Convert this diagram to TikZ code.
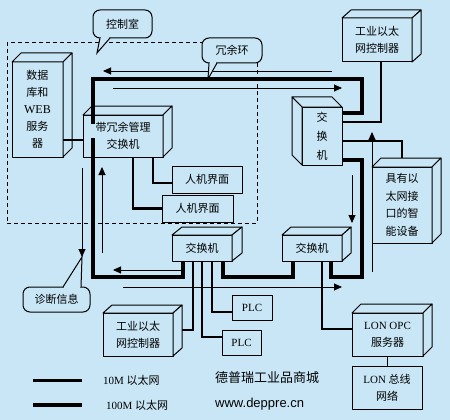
\documentclass[tikz,border=0pt]{standalone}
\usepackage{fontspec}
\setmainfont{Liberation Serif}
\newfontfamily\cjk{Noto Sans CJK SC}
\newfontfamily\wmfont{Liberation Sans}
\usetikzlibrary{arrows.meta,calc}
\definecolor{bgc}{RGB}{200,230,245}
\newcommand\cubeur[3]{%
  \filldraw[boxline] (#1.north west) -- ++(#2,#3) -- ($(#1.north east)+(#2,#3)$) -- (#1.north east) -- cycle;
  \filldraw[boxline] (#1.north east) -- ($(#1.north east)+(#2,#3)$) -- ($(#1.south east)+(#2,#3)$) -- (#1.south east) -- cycle;}
\newcommand\cubeul[3]{%
  \filldraw[boxline] (#1.north west) -- ++(#2,#3) -- ($(#1.north east)+(#2,#3)$) -- (#1.north east) -- cycle;
  \filldraw[boxline] (#1.north west) -- ($(#1.north west)+(#2,#3)$) -- ($(#1.south west)+(#2,#3)$) -- (#1.south west) -- cycle;}
\newcommand\pointer[5]{%
  \fill[bgc] (#1,#3) -- (#4,#5) -- (#2,#3) -- cycle;
  \fill[bgc] (#1+0.7,#3-1.1) rectangle (#2-0.7,#3+1.1);
  \draw[outline] (#1,#3) -- (#4,#5) -- (#2,#3);}
\tikzset{
  outline/.style={draw=black, line width=1pt},
  boxline/.style={outline, fill=bgc, line join=round},
  box/.style={boxline, rectangle, inner sep=0pt, outer sep=0pt, align=center, font=\cjk\fontsize{11}{17}\selectfont},
  ring/.style={line width=3.4pt},
  link/.style={line width=2.1pt},
  flow/.style={line width=0.9pt, -{Triangle[length=8pt,width=7pt]}},
  callout/.style={boxline, rounded corners=7pt, inner sep=0pt, outer sep=0pt, font=\cjk\fontsize{11}{13}\selectfont},
  room/.style={draw=black, line width=1pt, dash pattern=on 4pt off 3pt, inner sep=0pt},
  legtext/.style={anchor=base west, inner sep=0pt, font=\fontsize{11}{13}\selectfont},
}
\begin{document}
\begin{tikzpicture}[x=1pt,y=-1pt]
\fill[bgc] (0,0) rectangle (450,420);
\useasboundingbox (0,0) rectangle (450,420);

% control room
\node[room, minimum width=250pt, minimum height=180pt] (room) at (132,133) {};

% boxes
\node[box, minimum width=51pt, minimum height=95pt] (db) at (37.5,109.5) {数据\\库和\\{\rmfamily\fontsize{12}{17}\selectfont WEB}\\服务\\器};
\cubeur{db}{9}{-9}
\node[box, minimum width=80pt, minimum height=42pt] (rsw) at (123,136) {带冗余管理\\交换机};
\cubeur{rsw}{9}{-9}
\node[box, minimum width=70pt, minimum height=27pt] (hmi1) at (207,179.5) {人机界面};
\node[box, minimum width=71pt, minimum height=27pt] (hmi2) at (197.5,208.5) {人机界面};
\node[box, minimum width=40pt, minimum height=58pt] (swv) at (322,136) {交\\[2pt]换\\[2pt]机};
\cubeul{swv}{-10}{-10}
\node[box, minimum width=70pt, minimum height=44pt] (ctl1) at (377,40) {工业以太\\网控制器};
\cubeur{ctl1}{9}{-8}
\node[box, minimum width=60pt, minimum height=76pt, font=\cjk\fontsize{11}{17.5}\selectfont] (smart) at (402,205) {具有以\\太网接\\口的智\\能设备};
\cubeur{smart}{9}{-9}
\node[box, minimum width=60pt, minimum height=26pt] (swa) at (202,248) {交换机};
\cubeur{swa}{10}{-8}
\node[box, minimum width=60pt, minimum height=26pt] (swb) at (312,248) {交换机};
\cubeur{swb}{9}{-8}
\node[box, minimum width=70pt, minimum height=43pt] (ctl2) at (138,334.5) {工业以太\\网控制器};
\cubeur{ctl2}{9}{-8}
\node[box, minimum width=40pt, minimum height=25pt] (plc1) at (252,307.5) {\rmfamily PLC};
\node[box, minimum width=39pt, minimum height=25pt] (plc2) at (241.5,342.5) {\rmfamily PLC};
\node[box, minimum width=71pt, minimum height=43pt] (opc) at (387.5,334.5) {{\rmfamily LON OPC}\\服务器};
\cubeur{opc}{9}{-9}
\node[box, minimum width=70pt, minimum height=43pt] (lon) at (387,387.5) {{\rmfamily LON} 总线\\网络};

\coordinate (ctl2side) at ($(ctl2.east)+(9,-4.5)$);
\coordinate (smarttop) at ($(smart.north)+(0,-9)$);

% 100M ring
\draw[ring] (swa.south -| 183,0) -- (183,277) -- (93,277) -- (93,79) -- (362,79) -- (362,113) -- (swv.east |- 0,113);
\draw[ring] (swv.east |- 0,160) -| (362,277) -| (swb.south -| 331,0);
\draw[ring] (swa.south -| 223,0) -- (223,277) -- (293,277) -- (swb.south -| 293,0);
\fill[bgc] (90.6,123.5) rectangle (95.4,137.5);

% 10M links
\draw[link] (db.east |- 0,140) -- (rsw.west |- 0,140);
\draw[link] (rsw.south -| 153,0) |- (hmi1.west |- 0,183);
\draw[link] (rsw.south -| 133,0) |- (hmi2.west);
\draw[link] (swv.east |- 0,122) -| (ctl1.south -| 381,0);
\draw[link] (swv.east |- 0,141) -| (smarttop);
\draw[link] (swa.south -| 193,0) |- (ctl2side);
\draw[link] (swa.south -| 202,0) |- (plc2.west |- 0,337);
\draw[link] (swa.south -| 212,0) |- (plc1.west |- 0,312);
\draw[link] (swb.south -| 322,0) |- (opc.west |- 0,329);
\draw[outline] (opc.south -| 387,0) -- (lon.north -| 387,0);

% flow arrows
\coordinate (f1a) at (332,71);  \coordinate (f1b) at (103,71);
\coordinate (f2a) at (113,88);  \coordinate (f2b) at (342,88);
\coordinate (f3a) at (102,253); \coordinate (f3b) at (102,167);
\coordinate (f4a) at (82,168);  \coordinate (f4b) at (82,257);
\coordinate (f5a) at (182,270); \coordinate (f5b) at (113,270);
\coordinate (f6a) at (123,287); \coordinate (f6b) at (342,287);
\coordinate (f7a) at (352,175); \coordinate (f7b) at (352,223);
\coordinate (f8a) at (372,272); \coordinate (f8b) at (372,132);
\foreach \f in {f1,f2,f3,f4,f5,f6,f7,f8} {\draw[flow] (\f a) -- (\f b);}

% callouts
\node[callout, minimum width=59pt, minimum height=28pt] (c1) at (122.5,24) {控制室};
\pointer{100}{110}{38}{97}{53}
\node[callout, minimum width=60pt, minimum height=25pt] (c2) at (232,50.5) {冗余环};
\pointer{209}{217}{63}{208}{79}
\node[callout, minimum width=67pt, minimum height=25pt] (c3) at (56.5,299.5) {诊断信息};
\pointer{63}{81}{287}{82}{257}

% legend
\coordinate (l1a) at (33,380); \coordinate (l1b) at (82,380);
\coordinate (l2a) at (33,405); \coordinate (l2b) at (82,405);
\draw[line width=3pt] (l1a) -- (l1b);
\draw[line width=4pt] (l2a) -- (l2b);
\node[legtext] (t10) at (103,384) {10M {\cjk 以太网}};
\node[legtext] (t100) at (106,409) {100M {\cjk 以太网}};

% watermark
\node[anchor=base west, inner sep=0pt, font=\cjk\fontsize{13}{13}\selectfont] (wm1) at (215,382) {德普瑞工业品商城};
\node[anchor=base west, inner sep=0pt, font=\wmfont\fontsize{13}{13}\selectfont] (wm2) at (215,407) {www.deppre.cn};
\end{tikzpicture}
\end{document}
